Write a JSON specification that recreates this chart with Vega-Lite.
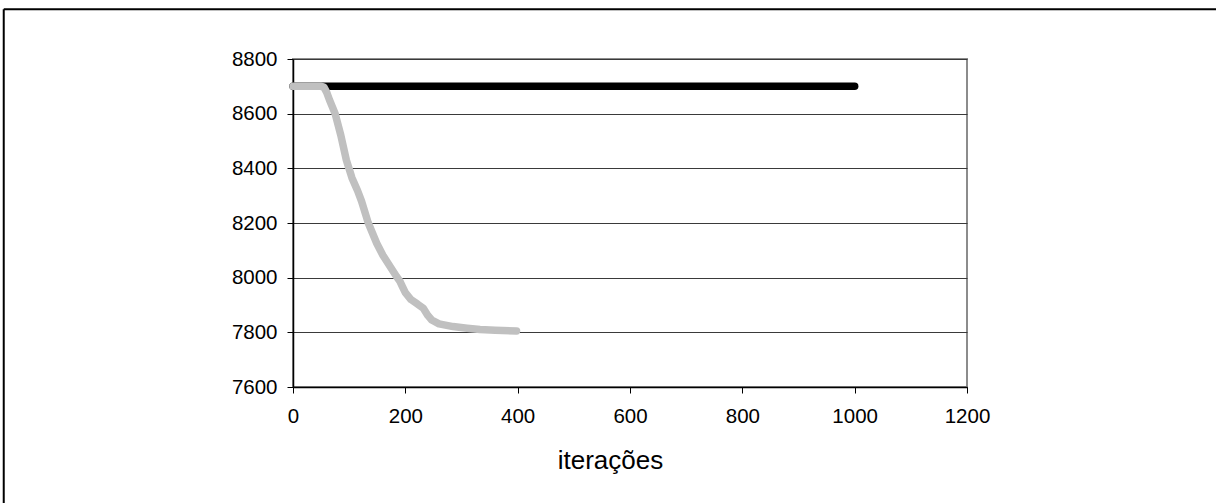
{
  "$schema": "https://vega.github.io/schema/vega-lite/v6.json",
  "width": 674,
  "height": 328,
  "autosize": "none",
  "padding": {"left": 293, "top": 59, "right": 249, "bottom": 116},
  "background": "white",
  "config": {
    "font": "Liberation Sans",
    "view": {"stroke": "#8c8c8c", "strokeWidth": 2},
    "axis": {
      "labelFont": "Liberation Sans",
      "titleFont": "Liberation Sans",
      "labelFontSize": 20.5,
      "labelColor": "#000000",
      "titleColor": "#000000",
      "domainColor": "#000000",
      "domainWidth": 1.5,
      "tickColor": "#000000",
      "tickWidth": 1,
      "tickSize": 6
    }
  },
  "datasets": {
    "serie_cinza": [
      {"iteracao": 0, "valor": 8700},
      {"iteracao": 50, "valor": 8700},
      {"iteracao": 55, "valor": 8697},
      {"iteracao": 60, "valor": 8678},
      {"iteracao": 65, "valor": 8650},
      {"iteracao": 75, "valor": 8600},
      {"iteracao": 85, "valor": 8522},
      {"iteracao": 95, "valor": 8430},
      {"iteracao": 105, "valor": 8365},
      {"iteracao": 115, "valor": 8318},
      {"iteracao": 122, "valor": 8280},
      {"iteracao": 134, "valor": 8200},
      {"iteracao": 149, "valor": 8126},
      {"iteracao": 160, "valor": 8082},
      {"iteracao": 170, "valor": 8050},
      {"iteracao": 184, "valor": 8005},
      {"iteracao": 190, "valor": 7988},
      {"iteracao": 195, "valor": 7966},
      {"iteracao": 200, "valor": 7945},
      {"iteracao": 210, "valor": 7920},
      {"iteracao": 222, "valor": 7903},
      {"iteracao": 232, "valor": 7888},
      {"iteracao": 240, "valor": 7862},
      {"iteracao": 247, "valor": 7845},
      {"iteracao": 260, "valor": 7831},
      {"iteracao": 285, "valor": 7821},
      {"iteracao": 310, "valor": 7815},
      {"iteracao": 333, "valor": 7810},
      {"iteracao": 360, "valor": 7808},
      {"iteracao": 398, "valor": 7805}
    ],
    "serie_preta": [
      {"iteracao": 0, "valor": 8700},
      {"iteracao": 200, "valor": 8700},
      {"iteracao": 400, "valor": 8700},
      {"iteracao": 600, "valor": 8700},
      {"iteracao": 800, "valor": 8700},
      {"iteracao": 1000, "valor": 8700}
    ]
  },
  "layer": [
    {
      "data": {"name": "serie_preta"},
      "mark": {"type": "line", "color": "#000000", "strokeWidth": 7.5, "strokeCap": "round", "clip": false},
      "encoding": {
        "x": {
          "field": "iteracao", "type": "quantitative",
          "scale": {"domain": [0, 1200], "nice": false, "zero": false},
          "axis": {
            "values": [0, 200, 400, 600, 800, 1000, 1200],
            "format": "d",
            "grid": false,
            "labelFlush": false,
            "labelPadding": 13,
            "title": "iterações",
            "titleFontSize": 26,
            "titleFontWeight": "normal",
            "titlePadding": 21,
            "titleX": 317,
            "titleAlign": "center"
          }
        },
        "y": {
          "field": "valor", "type": "quantitative",
          "scale": {"domain": [7600, 8800], "nice": false, "zero": false},
          "axis": {
            "values": [7600, 7800, 8000, 8200, 8400, 8600, 8800],
            "format": "d",
            "grid": true,
            "gridColor": "#3a3a3a",
            "gridWidth": 1,
            "gridOpacity": 1,
            "labelFlush": false,
            "labelPadding": 10,
            "title": null
          }
        }
      }
    },
    {
      "data": {"name": "serie_cinza"},
      "mark": {"type": "line", "color": "#c0c0c0", "strokeWidth": 7.5, "strokeCap": "round", "strokeJoin": "round", "clip": false},
      "encoding": {
        "x": {"field": "iteracao", "type": "quantitative", "scale": {"domain": [0, 1200], "nice": false, "zero": false}},
        "y": {"field": "valor", "type": "quantitative", "scale": {"domain": [7600, 8800], "nice": false, "zero": false}}
      }
    },
    {
      "data": {"values": [{}]},
      "mark": {"type": "rule", "color": "#000000", "strokeWidth": 2, "clip": false},
      "encoding": {
        "x": {"datum": -515, "type": "quantitative", "scale": {"domain": [0, 1200], "nice": false, "zero": false}},
        "y": {"datum": 8982, "type": "quantitative", "scale": {"domain": [7600, 8800], "nice": false, "zero": false}},
        "x2": {"datum": 1700}
      }
    },
    {
      "data": {"values": [{}]},
      "mark": {"type": "rule", "color": "#000000", "strokeWidth": 2, "clip": false},
      "encoding": {
        "x": {"datum": -515, "type": "quantitative", "scale": {"domain": [0, 1200], "nice": false, "zero": false}},
        "y": {"datum": 8982, "type": "quantitative", "scale": {"domain": [7600, 8800], "nice": false, "zero": false}},
        "y2": {"datum": 7100}
      }
    }
  ]
}
